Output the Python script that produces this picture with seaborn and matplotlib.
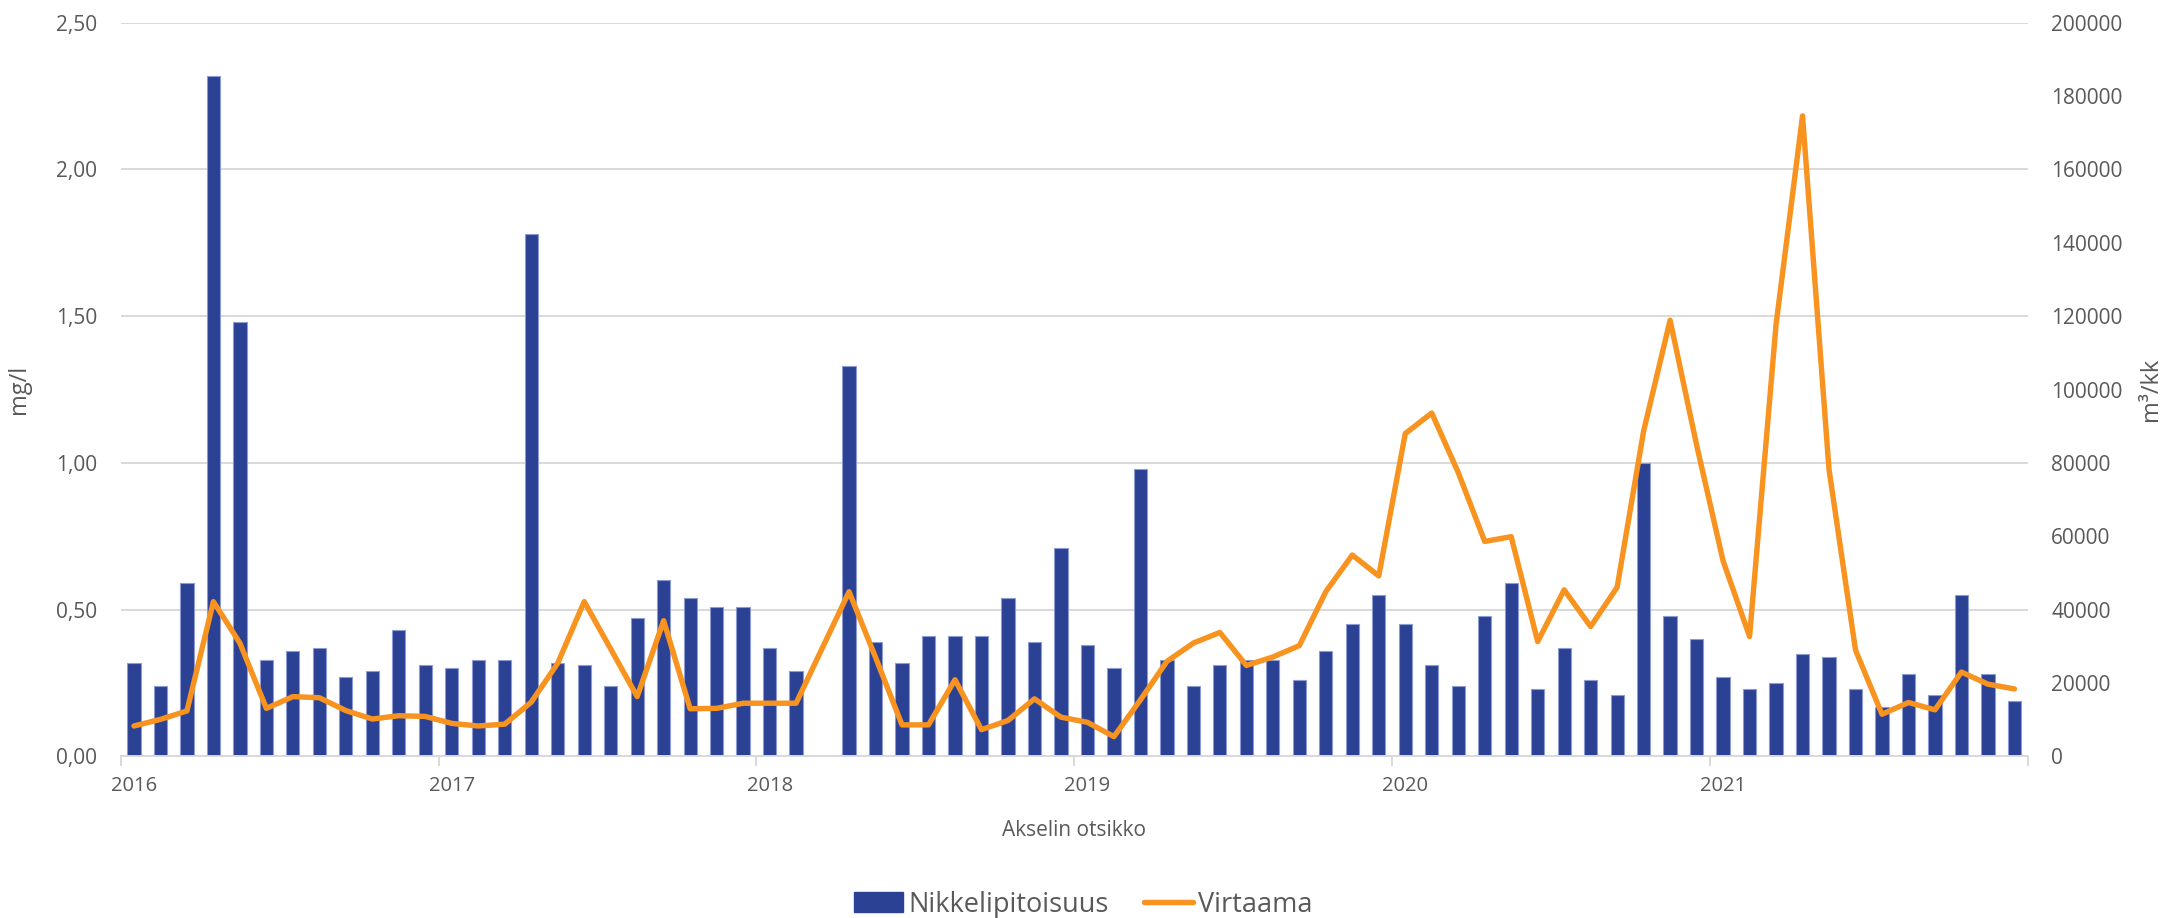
import numpy as np
import pandas as pd
import matplotlib
matplotlib.use("Agg")
import matplotlib.pyplot as plt
import seaborn as sns
from matplotlib.ticker import FixedLocator, FuncFormatter
from matplotlib.patches import Patch
from matplotlib.lines import Line2D

# Monthly observations, January 2016 - December 2021 (None = no sample)
years = ["2016", "2017", "2018", "2019", "2020", "2021"]

nickel_mg_l = [
    # 2016
    0.32, 0.24, 0.59, 2.32, 1.48, 0.33, 0.36, 0.37, 0.27, 0.29, 0.43, 0.31,
    # 2017
    0.30, 0.33, 0.33, 1.78, 0.32, 0.31, 0.24, 0.47, 0.60, 0.54, 0.51, 0.51,
    # 2018
    0.37, 0.29, None, 1.33, 0.39, 0.32, 0.41, 0.41, 0.41, 0.54, 0.39, 0.71,
    # 2019
    0.38, 0.30, 0.98, 0.33, 0.24, 0.31, 0.33, 0.33, 0.26, 0.36, 0.45, 0.55,
    # 2020
    0.45, 0.31, 0.24, 0.48, 0.59, 0.23, 0.37, 0.26, 0.21, 1.00, 0.48, 0.40,
    # 2021
    0.27, 0.23, 0.25, 0.35, 0.34, 0.23, 0.17, 0.28, 0.21, 0.55, 0.28, 0.19,
]

flow_m3_month = [
    # 2016
    8300, 10100, 12400, 42200, 30900, 13100, 16300, 16000, 12500, 10200, 11100, 10900,
    # 2017
    9000, 8300, 8800, 14800, 25400, 42200, 29300, 16300, 37000, 13000, 13100, 14500,
    # 2018
    14500, 14500, None, 44900, 27000, 8600, 8600, 20900, 7300, 9800, 15700, 10700,
    # 2019
    9300, 5400, 15400, 25900, 30900, 33800, 24800, 27100, 30200, 44900, 54900, 49200,
    # 2020
    88000, 93600, 77400, 58600, 59900, 31300, 45400, 35400, 46100, 88700, 118900, 84900,
    # 2021
    53300, 32700, 117700, 174600, 78200, 29000, 11500, 14700, 12700, 23000, 19700, 18400,
]

n_months = len(nickel_mg_l)
df = pd.DataFrame({
    "month": np.arange(n_months),
    "Nikkelipitoisuus": pd.to_numeric(pd.Series(nickel_mg_l), errors="coerce"),
    "Virtaama": pd.to_numeric(pd.Series(flow_m3_month), errors="coerce"),
})

bar_color = "#2B4194"
line_color = "#F7931E"
grid_color = "#D9D9D9"
text_color = "#595959"

sns.set_theme(style="white")
plt.rcParams["font.family"] = ["Open Sans", "DejaVu Sans"]

fig = plt.figure(figsize=(21.67, 9.18), dpi=100)
ax = fig.add_axes([0.0557, 0.176, 0.88, 0.7993])
ax2 = ax.twinx()

bars = df.dropna(subset=["Nikkelipitoisuus"])
sns.barplot(data=bars, x="month", y="Nikkelipitoisuus", ax=ax, native_scale=True,
            color=bar_color, saturation=1, width=0.5,
            edgecolor="#8C9BD2", linewidth=0.8, zorder=2)

flow = df.dropna(subset=["Virtaama"])
sns.lineplot(data=flow, x="month", y="Virtaama", ax=ax2, color=line_color,
             linewidth=3.9, solid_joinstyle="round", solid_capstyle="round",
             zorder=3)

# Left axis: concentration
ax.set_xlim(-0.5, n_months - 0.5)
ax.set_ylim(0, 2.5)
ax.yaxis.set_major_locator(FixedLocator(np.arange(0, 2.51, 0.5)))
ax.yaxis.set_major_formatter(FuncFormatter(lambda v, p: f"{v:.2f}".replace(".", ",")))
ax.grid(axis="y", color=grid_color, linewidth=1.4, zorder=0)
ax.set_axisbelow(True)

# Right axis: monthly flow
ax2.set_ylim(0, 200000)
ax2.yaxis.set_major_locator(FixedLocator(np.arange(0, 200001, 20000)))
ax2.yaxis.set_major_formatter(FuncFormatter(lambda v, p: f"{int(v)}"))
ax2.grid(False)

for a in (ax, ax2):
    for side in ("top", "left", "right"):
        a.spines[side].set_visible(False)
    a.spines["bottom"].set_color(grid_color)
    a.spines["bottom"].set_linewidth(1.4)
ax2.spines["bottom"].set_visible(False)

# Year labels under each January, tick marks at year boundaries
ax.xaxis.set_major_locator(FixedLocator(np.arange(-0.5, n_months, 12)))
ax.xaxis.set_major_formatter(FuncFormatter(lambda v, p: ""))
ax.set_xticks(np.arange(0, n_months, 12), labels=years, minor=True)
ax.tick_params(axis="x", which="major", length=7, width=1.4, color=grid_color,
               direction="out", bottom=True)
ax.tick_params(axis="x", which="minor", length=0, pad=14, labelsize=14.5,
               labelcolor=text_color)
ax.tick_params(axis="y", length=0, pad=17, labelsize=15, labelcolor=text_color)
ax2.tick_params(axis="y", length=0, pad=17, labelsize=15, labelcolor=text_color)

ax.set_xlabel("Akselin otsikko", fontsize=15, color=text_color)
ax.xaxis.set_label_coords(0.5, -0.086)
ax.set_ylabel("mg/l", fontsize=17, color=text_color)
ax.yaxis.set_label_coords(-0.047, 0.5)
ax2.set_ylabel("m³/kk", fontsize=17, color=text_color)
ax2.yaxis.set_label_coords(1.0585, 0.5)

handles = [Patch(facecolor=bar_color, edgecolor=bar_color),
           Line2D([0], [0], color=line_color, linewidth=3.9, solid_capstyle="round")]
fig.legend(handles, ["Nikkelipitoisuus", "Virtaama"], loc="center",
           bbox_to_anchor=(0.5, 0.0145), ncol=2, frameon=False, fontsize=19.5,
           labelcolor=text_color, handlelength=1.8, handleheight=0.75,
           handletextpad=0.2, columnspacing=1.3)

fig.savefig("out.png", dpi=100)
